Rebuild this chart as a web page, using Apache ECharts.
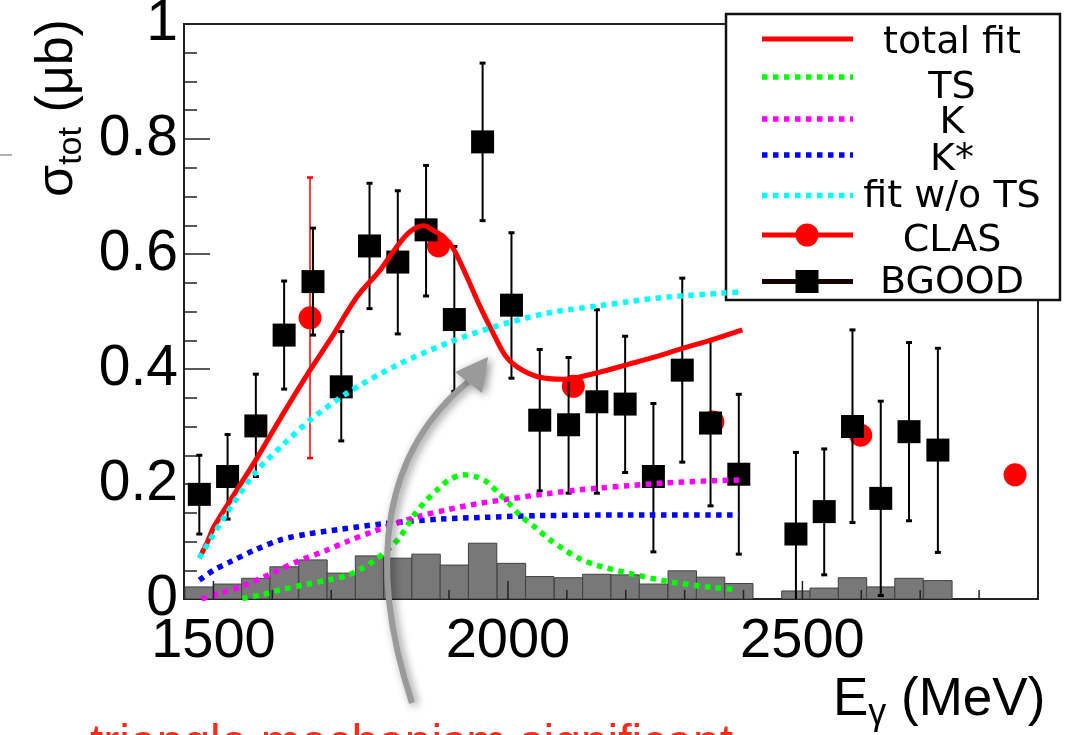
<!DOCTYPE html>
<html><head><meta charset="utf-8">
<script src="https://cdn.jsdelivr.net/npm/echarts@6/dist/echarts.min.js"></script>
<style>html,body{margin:0;padding:0;background:#fff}#c{width:1076px;height:735px}</style>
</head><body><div id="c"></div>
<script>
// ---- data ----
const bgoodE  = [1476,1524,1572,1620,1669,1717,1765,1813,1861,1909,1957,2006,2054,2103,2151,2199,2247,2296,2344,2392,2489,2537,2585,2633,2681,2730];
const bgoodY  = [0.182,0.213,0.301,0.459,0.552,0.369,0.614,0.586,0.642,0.486,0.795,0.511,0.311,0.303,0.343,0.339,0.213,0.398,0.306,0.217,0.113,0.152,0.300,0.175,0.291,0.259];
const bgoodLo = [0.113,0.139,0.213,0.365,0.459,0.275,0.505,0.461,0.527,0.361,0.658,0.384,0.188,0.184,0.184,0.220,0.082,0.238,0.162,0.078,-0.02,0.042,0.133,0.006,0.136,0.081];
const bgoodHi = [0.250,0.286,0.391,0.553,0.645,0.465,0.723,0.710,0.754,0.613,0.932,0.637,0.434,0.420,0.503,0.457,0.340,0.558,0.449,0.356,0.255,0.261,0.468,0.344,0.446,0.436];

const histE = [1476,1524,1572,1620,1669,1717,1765,1813,1861,1909,1957,2006,2054,2103,2151,2199,2247,2296,2344,2392,2489,2537,2585,2633,2681,2730];
const histY = [0.021,0.026,0.036,0.056,0.068,0.045,0.075,0.071,0.078,0.059,0.097,0.062,0.039,0.037,0.043,0.042,0.026,0.049,0.038,0.027,0.014,0.019,0.037,0.021,0.036,0.032];
const histBinWidth = 48.25;

const clasE  = [1664,1882,2111,2348,2599,2861];
const clasY  = [0.489,0.614,0.370,0.308,0.285,0.216];
const clasLo = [0.245,0.600,0.356,0.294,0.271,0.202];
const clasHi = [0.733,0.628,0.384,0.322,0.299,0.230];

const totalFitE = [1476,1490,1501,1540,1572,1620,1664,1700,1744,1783,1810,1834,1857,1875,1891,1907,1930,1953,1975,1995,2015,2049,2094,2150,2204,2250,2300,2350,2398];
const totalFitY = [0.071,0.100,0.126,0.190,0.242,0.325,0.398,0.454,0.526,0.572,0.611,0.639,0.649,0.640,0.630,0.610,0.561,0.508,0.462,0.424,0.404,0.387,0.382,0.393,0.408,0.421,0.437,0.452,0.468];

const tsE = [1549,1580,1614,1660,1699,1727,1750,1772,1795,1817,1840,1860,1879,1900,1924,1945,1965,1986,2003,2020,2048,2070,2094,2122,2150,2204,2274,2348,2390];
const tsY = [0.001,0.007,0.016,0.026,0.034,0.041,0.052,0.066,0.085,0.108,0.145,0.170,0.189,0.207,0.216,0.213,0.203,0.182,0.165,0.146,0.123,0.104,0.087,0.070,0.059,0.045,0.030,0.020,0.016];

const kE = [1480,1510,1546,1600,1642,1690,1727,1770,1812,1850,1896,1950,2009,2065,2122,2156,2204,2269,2330,2393];
const kY = [0.000,0.010,0.021,0.045,0.065,0.084,0.100,0.117,0.132,0.144,0.155,0.166,0.175,0.183,0.190,0.193,0.197,0.202,0.205,0.207];

const kstarE = [1476,1500,1529,1570,1614,1660,1715,1789,1885,1960,2054,2204,2393];
const kstarY = [0.033,0.050,0.065,0.085,0.103,0.113,0.121,0.131,0.139,0.142,0.145,0.146,0.146];

const noTsE = [1476,1520,1572,1620,1664,1727,1812,1902,1972,2066,2156,2204,2269,2365,2398];
const noTsY = [0.071,0.145,0.221,0.270,0.311,0.358,0.407,0.447,0.472,0.497,0.510,0.517,0.525,0.532,0.534];

const xTickValues = [1500,1600,1700,1800,1900,2000,2100,2200,2300,2400,2500,2600,2700,2800];
const legendLabels = ['total fit','TS','K','K*','fit w/o TS','CLAS','BGOOD'];

// ---- chart ----
const pair = (xs, ys) => xs.map((x, i) => [x, ys[i]]);
const trip = (xs, a, b) => xs.map((x, i) => [x, a[i], b[i]]);

function errRender(color, lw, cap) {
  return function (params, api) {
    const x = api.value(0), lo = api.value(1), hi = api.value(2);
    const a = api.coord([x, lo]), b = api.coord([x, hi]);
    const st = { stroke: color, lineWidth: lw };
    const cs = { stroke: color, lineWidth: lw + 1 };
    return { type: 'group', children: [
      { type: 'line', shape: { x1: a[0], y1: a[1], x2: b[0], y2: b[1] }, style: st },
      { type: 'line', shape: { x1: a[0] - cap, y1: a[1], x2: a[0] + cap, y2: a[1] }, style: cs },
      { type: 'line', shape: { x1: b[0] - cap, y1: b[1], x2: b[0] + cap, y2: b[1] }, style: cs }
    ]};
  };
}

const dotted = (color) => ({ color: color, width: 5.5, type: [5.5, 5.5], cap: 'butt' });

const chart = echarts.init(document.getElementById('c'), null, { renderer: 'canvas' });

const legendRows = [
  { y: 39, ty: 43.6, kind: 'line', color: '#ff0000' },
  { y: 77, ty: 88, kind: 'dot', color: '#00ff00' },
  { y: 119, ty: 123.6, kind: 'dot', color: '#ff00ff' },
  { y: 155, ty: 160.3, kind: 'dot', color: '#0000ff' },
  { y: 195.5, ty: 197.6, kind: 'dot', color: '#00ffff' },
  { y: 235, ty: 241.6, kind: 'circle', color: '#ff0000' },
  { y: 281.5, ty: 283, kind: 'square', color: '#150000' }
];
const legendChildren = [
  { type: 'rect', shape: { x: 726, y: 14, width: 334, height: 286 }, style: { fill: '#fff', stroke: '#111', lineWidth: 2.5 } }
];
legendRows.forEach((r, i) => {
  const ls = { stroke: r.color, lineWidth: r.kind === 'dot' ? 5.5 : 5 };
  if (r.kind === 'dot') ls.lineDash = [5.5, 5.5];
  legendChildren.push({ type: 'line', shape: { x1: 762, y1: r.y, x2: 853, y2: r.y }, style: ls });
  if (r.kind === 'circle') legendChildren.push({ type: 'circle', shape: { cx: 807, cy: r.y, r: 11.5 }, style: { fill: '#ff0000' } });
  if (r.kind === 'square') legendChildren.push({ type: 'rect', shape: { x: 795.5, y: r.y - 11.5, width: 23, height: 23 }, style: { fill: '#000' } });
  legendChildren.push({ type: 'text', style: { text: legendLabels[i], x: 952, y: r.ty, align: 'center', verticalAlign: 'middle', fontSize: 38, fontFamily: 'DejaVu Sans', fill: '#000' } });
});

chart.setOption({
  animation: false,
  backgroundColor: '#fff',
  grid: { left: 184, right: 38, top: 24, bottom: 136, show: true, borderColor: '#222', borderWidth: 2, containLabel: false, outerBoundsMode: 'none' },
  xAxis: {
    type: 'value', min: 1450, max: 2900, interval: 50,
    axisLine: { show: true, onZero: false, lineStyle: { color: '#222', width: 2 } },
    axisTick: { show: false }, splitLine: { show: false },
    axisLabel: { fontSize: 56, fontFamily: 'Liberation Sans', color: '#000', margin: 15,
      formatter: v => (v % 500 === 0 ? String(v) : '') }
  },
  yAxis: {
    type: 'value', min: 0, max: 1, interval: 0.2,
    axisLine: { show: true, onZero: false, lineStyle: { color: '#222', width: 2 } },
    axisTick: { show: true, inside: true, length: 26, lineStyle: { color: '#222', width: 1.5 } },
    minorTick: { show: true, splitNumber: 4, length: 13, lineStyle: { color: '#222', width: 1.5 } },
    splitLine: { show: false }, minorSplitLine: { show: false },
    axisLabel: { fontSize: 57, fontFamily: 'Liberation Sans', color: '#000', margin: 6,
      formatter: v => (Math.abs(v) < 1e-9 ? '0' : Math.abs(v - 1) < 1e-9 ? '1' : v.toFixed(1)) }
  },
  series: [
    { type: 'custom', name: 'hist', z: 1, clip: true, data: pair(histE, histY),
      encode: { x: 0, y: 1 },
      renderItem: function (params, api) {
        const e = api.value(0), v = api.value(1);
        const a = api.coord([e - histBinWidth / 2, v]);
        const b = api.coord([e + histBinWidth / 2, 0]);
        return { type: 'rect', shape: { x: a[0], y: a[1], width: b[0] - a[0], height: b[1] - a[1] },
          style: { fill: '#787878', stroke: '#404040', lineWidth: 1 } };
      } },
    { type: 'custom', name: 'CLAS err', z: 2, clip: true, data: trip(clasE, clasLo, clasHi),
      encode: { x: 0, y: [1, 2] }, renderItem: errRender('#ff0000', 1.5, 3) },
    { type: 'scatter', name: 'CLAS', z: 3, symbol: 'circle', symbolSize: 23, data: pair(clasE, clasY),
      itemStyle: { color: '#ff0000', opacity: 1 } },
    { type: 'custom', name: 'BGOOD err', z: 4, clip: true, data: trip(bgoodE, bgoodLo, bgoodHi),
      encode: { x: 0, y: [1, 2] }, renderItem: errRender('#000', 2, 3) },
    { type: 'scatter', name: 'BGOOD', z: 5, symbol: 'rect', symbolSize: 23, data: pair(bgoodE, bgoodY),
      itemStyle: { color: '#000', opacity: 1 } },
    { type: 'line', name: 'total fit', z: 6, showSymbol: false, smooth: 0.3, data: pair(totalFitE, totalFitY),
      lineStyle: { color: '#ff0000', width: 5 } },
    { type: 'line', name: 'K*', z: 7, showSymbol: false, smooth: 0.3, data: pair(kstarE, kstarY), lineStyle: dotted('#0000ff') },
    { type: 'line', name: 'K', z: 7, showSymbol: false, smooth: 0.3, data: pair(kE, kY), lineStyle: dotted('#ff00ff') },
    { type: 'line', name: 'TS', z: 7, showSymbol: false, smooth: 0.3, data: pair(tsE, tsY), lineStyle: dotted('#00ff00') },
    { type: 'line', name: 'fit w/o TS', z: 7, showSymbol: false, smooth: 0.3, data: pair(noTsE, noTsY), lineStyle: dotted('#00ffff') },
    { type: 'custom', name: 'xticks', z: 8, data: xTickValues.map(v => [v, 0]), encode: { x: 0, y: 1 },
      renderItem: function (params, api) {
        const v = api.value(0);
        const p = api.coord([v, 0]);
        const len = v % 500 === 0 ? 18 : 9;
        return { type: 'line', shape: { x1: p[0], y1: p[1], x2: p[0], y2: p[1] - len }, style: { stroke: '#222', lineWidth: 1.5 } };
      } }
  ],
  graphic: [
    { type: 'group', z: 100, children: legendChildren },
    { type: 'bezierCurve', z: 90,
      shape: { x1: 412, y1: 703, cpx1: 365, cpy1: 560, cpx2: 385, cpy2: 450, x2: 468, y2: 382 },
      style: { stroke: '#9a9a9a', lineWidth: 6, fill: null, shadowBlur: 8, shadowColor: 'rgba(0,0,0,0.45)', shadowOffsetX: 3, shadowOffsetY: 2 } },
    { type: 'polygon', z: 91, shape: { points: [[488, 357], [455, 372], [482, 393]] },
      style: { fill: '#9a9a9a', shadowBlur: 8, shadowColor: 'rgba(0,0,0,0.45)', shadowOffsetX: 3, shadowOffsetY: 2 } },
    { type: 'text', z: 50, rotation: Math.PI / 2, x: 58, y: 108,
      style: { text: '{a|σ}{b|tot}{a| (μb)}', align: 'center', verticalAlign: 'middle', fill: '#000',
        rich: { a: { fontSize: 52, fontFamily: 'Liberation Sans', lineHeight: 62, fill: '#000' },
                b: { fontSize: 34, fontFamily: 'Liberation Sans', lineHeight: 34, verticalAlign: 'bottom', fill: '#000' } } } },
    { type: 'text', z: 50, x: 833, y: 700,
      style: { text: '{a|E}{b|γ}{a| (MeV)}', align: 'left', verticalAlign: 'middle', fill: '#000',
        rich: { a: { fontSize: 53, fontFamily: 'Liberation Sans', lineHeight: 64, fill: '#000' },
                b: { fontSize: 36, fontFamily: 'Liberation Sans', lineHeight: 36, verticalAlign: 'bottom', fill: '#000' } } } },
    { type: 'text', z: 50, x: 50, y: 752,
      style: { text: '▶', fontSize: 36, fontFamily: 'DejaVu Sans', fill: '#ff2a1a', align: 'left', verticalAlign: 'middle' } },
    { type: 'text', z: 50, x: 90, y: 745,
      style: { text: 'triangle mechanism significant', fontSize: 48, fontFamily: 'Liberation Sans', fill: '#ff2a1a', align: 'left', verticalAlign: 'middle' } },
    { type: 'line', z: 50, shape: { x1: 0, y1: 155, x2: 12, y2: 155 }, style: { stroke: '#999', lineWidth: 1.5 } }
  ]
});
</script>
</body></html>
